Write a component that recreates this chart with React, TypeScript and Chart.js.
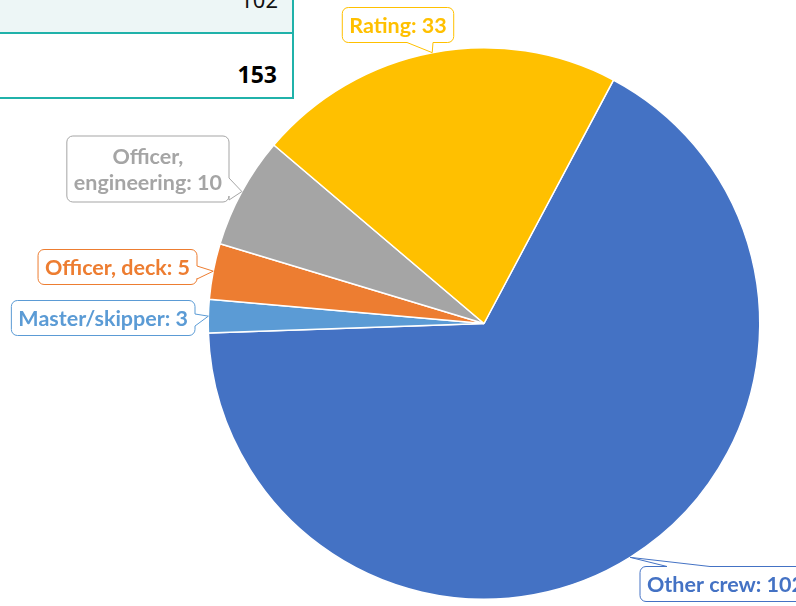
import React, { useEffect, useRef } from "react";
import { Chart, registerables } from "chart.js";

Chart.register(...registerables);

// Crew composition by role
const categories = ["Other crew", "Master/skipper", "Officer, deck", "Officer, engineering", "Rating"];
const crewCounts = [102, 3, 5, 10, 33];
const sliceColors = ["#4472C4", "#5B9BD5", "#ED7D31", "#A5A5A5", "#FFC000"];

// Summary table rows shown above the chart
const tableRows = [String(crewCounts[0]), String(crewCounts.reduce((a, b) => a + b, 0))];

const LABEL_FONT = "bold 21.5px Lato";

type Callout = {
  ax: number; // anchor x (edge given by align)
  ay: number; // box centre y
  align: "left" | "right" | "center";
  side: "top" | "right" | "bottom";
  base: [number, number];
  wrap: boolean;
};

// Callout box placement for each slice, in data order
const callouts: Callout[] = [
  { ax: 640, ay: 584, align: "left", side: "top", base: [667, 710], wrap: false },
  { ax: 195, ay: 318, align: "right", side: "right", base: [314, 326], wrap: false },
  { ax: 197, ay: 267, align: "right", side: "right", base: [266, 279], wrap: false },
  { ax: 229, ay: 169, align: "right", side: "right", base: [178, 200], wrap: true },
  { ax: 398, ay: 25, align: "center", side: "bottom", base: [407, 433], wrap: false },
];

function calloutPath(
  ctx: CanvasRenderingContext2D,
  x: number, y: number, w: number, h: number, r: number,
  side: string, b0: number, b1: number, tx: number, ty: number
) {
  ctx.beginPath();
  ctx.moveTo(x + r, y);
  if (side === "top") {
    ctx.lineTo(b0, y);
    ctx.lineTo(tx, ty);
    ctx.lineTo(b1, y);
  }
  ctx.lineTo(x + w - r, y);
  ctx.arcTo(x + w, y, x + w, y + r, r);
  if (side === "right") {
    ctx.lineTo(x + w, b0);
    ctx.lineTo(tx, ty);
    ctx.lineTo(x + w, b1);
  }
  ctx.lineTo(x + w, y + h - r);
  ctx.arcTo(x + w, y + h, x + w - r, y + h, r);
  if (side === "bottom") {
    ctx.lineTo(b1, y + h);
    ctx.lineTo(tx, ty);
    ctx.lineTo(b0, y + h);
  }
  ctx.lineTo(x + r, y + h);
  ctx.arcTo(x, y + h, x, y + h - r, r);
  ctx.lineTo(x, y + r);
  ctx.arcTo(x, y, x + r, y, r);
  ctx.closePath();
}

const calloutPlugin = {
  id: "calloutLabels",
  afterDatasetsDraw(chart: any) {
    const ctx: CanvasRenderingContext2D = chart.ctx;
    const meta = chart.getDatasetMeta(0);
    ctx.save();
    ctx.font = LABEL_FONT;
    meta.data.forEach((arc: any, i: number) => {
      const cfg = callouts[i];
      if (!cfg) return;
      const p = arc.getProps(["x", "y", "startAngle", "endAngle", "outerRadius"], true);
      const mid = (p.startAngle + p.endAngle) / 2;
      const tx = p.x + Math.cos(mid) * p.outerRadius;
      const ty = p.y + Math.sin(mid) * p.outerRadius;

      const name = categories[i];
      const text = `${name}: ${crewCounts[i]}`;
      const lines = cfg.wrap
        ? [name.slice(0, name.indexOf(",") + 1), `${name.slice(name.indexOf(",") + 2)}: ${crewCounts[i]}`]
        : [text];
      const tw = Math.max(...lines.map((l) => ctx.measureText(l).width));
      const lineH = 26;
      const w = tw + 14;
      const h = lines.length === 1 ? 35 : 66;
      let x = cfg.ax;
      if (cfg.align === "right") x = cfg.ax - w;
      else if (cfg.align === "center") x = cfg.ax - w / 2;
      const y = cfg.ay - h / 2;

      calloutPath(ctx, x, y, w, h, 6, cfg.side, cfg.base[0], cfg.base[1], tx, ty);
      ctx.fillStyle = "#FFFFFF";
      ctx.fill();
      ctx.lineWidth = 1;
      ctx.strokeStyle = sliceColors[i];
      ctx.stroke();

      ctx.fillStyle = sliceColors[i];
      ctx.textAlign = "center";
      ctx.textBaseline = "middle";
      const cx = x + w / 2;
      const startY = cfg.ay - ((lines.length - 1) * lineH) / 2;
      lines.forEach((l, k) => ctx.fillText(l, cx, startY + k * lineH + 1));
    });
    ctx.restore();
  },
};

const TEAL = "#20B2AA";

export default function App() {
  const canvasRef = useRef<HTMLCanvasElement | null>(null);

  useEffect(() => {
    if (!canvasRef.current) return;
    const chart = new Chart(canvasRef.current, {
      type: "pie",
      data: {
        labels: categories,
        datasets: [
          {
            data: crewCounts,
            backgroundColor: sliceColors,
            borderColor: "#FFFFFF",
            borderWidth: 1.5,
          },
        ],
      },
      options: {
        responsive: false,
        animation: false,
        rotation: 28,
        layout: { padding: { left: 207, right: 35, top: 47, bottom: 6 } },
        plugins: {
          legend: { display: false },
          tooltip: { enabled: false },
        },
      },
      plugins: [calloutPlugin],
    });
    return () => chart.destroy();
  }, []);

  return (
    <div
      style={{
        position: "fixed",
        left: 0,
        top: 0,
        width: 796,
        height: 606,
        background: "#FFFFFF",
        overflow: "hidden",
      }}
    >
      {/* summary table */}
      <div style={{ position: "absolute", left: 0, top: 0, width: 292, height: 32, background: "#EDF6F6" }} />
      <div style={{ position: "absolute", left: 0, top: 32, width: 294, height: 2, background: TEAL }} />
      <div style={{ position: "absolute", left: 0, top: 97, width: 294, height: 2, background: TEAL }} />
      <div style={{ position: "absolute", left: 292, top: 0, width: 2, height: 99, background: TEAL }} />
      <div
        style={{
          position: "absolute",
          right: 796 - 278,
          top: -16,
          font: "22px 'Noto Sans'",
          color: "#111111",
          lineHeight: "30px",
        }}
      >
        {tableRows[0]}
      </div>
      <div
        style={{
          position: "absolute",
          right: 796 - 277,
          top: 59,
          font: "bold 23px 'Noto Sans'",
          color: "#000000",
          lineHeight: "30px",
        }}
      >
        {tableRows[1]}
      </div>
      <canvas ref={canvasRef} width={796} height={606} style={{ position: "absolute", left: 0, top: 0 }} />
    </div>
  );
}
